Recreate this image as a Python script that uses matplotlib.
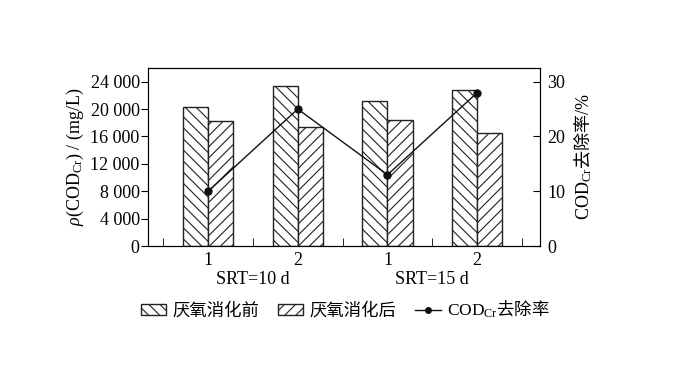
import numpy as np
import matplotlib
matplotlib.use('Agg')
import matplotlib.pyplot as plt
from matplotlib.patches import Patch
from matplotlib.lines import Line2D

plt.rcParams['font.family'] = ['Liberation Serif', 'Noto Sans CJK SC']
plt.rcParams['mathtext.fontset'] = 'custom'
plt.rcParams['mathtext.rm'] = 'Liberation Serif'
plt.rcParams['mathtext.it'] = 'Liberation Serif:italic'
plt.rcParams['hatch.linewidth'] = 0.8

# data
groups = ['SRT=10 d', 'SRT=15 d']
runs = ['1', '2', '1', '2']
before = [20300, 23350, 21150, 22850]   # 厌氧消化前
after = [18300, 17450, 18350, 16500]    # 厌氧消化后
removal = [10, 25, 13, 28]              # COD_Cr 去除率 %
yticks_left = [0, 4000, 8000, 12000, 16000, 20000, 24000]
yticklabels_left = ['0', '4 000', '8 000', '12 000', '16 000', '20 000', '24 000']
yticks_right = [0, 10, 20, 30]

cjk = ['Noto Sans CJK SC', 'Liberation Serif']
fs = 13

fig = plt.figure(figsize=(7, 3.82), dpi=100)
ax = fig.add_axes([0.2114, 0.356, 0.56, 0.466])
x = np.arange(len(runs))
w = 0.28
ax.bar(x - w / 2, before, w, color='white', edgecolor='#222222', hatch='\\\\\\', linewidth=1)
ax.bar(x + w / 2, after, w, color='white', edgecolor='#222222', hatch='///', linewidth=1)
ax.set_xlim(-0.67, 3.7)
ax.set_ylim(0, 26000)
ax.set_yticks(yticks_left)
ax.set_yticklabels(yticklabels_left)
ax.set_xticks(x)
ax.set_xticklabels(runs)
ax.set_xticks([-0.5, 0.5, 1.5, 2.5, 3.5], minor=True)
ax.tick_params(axis='x', which='major', length=0, labelsize=fs, pad=4)
ax.tick_params(axis='x', which='minor', direction='in', length=6)
ax.tick_params(axis='y', direction='out', length=5, labelsize=fs, pad=1)
ax.set_ylabel(r'$\it{\rho}$(COD$_{\rm Cr}$) / (mg/L)', fontsize=fs, labelpad=3)
for i, g in enumerate(groups):
    ax.text(2 * i + 0.5, -0.19, g, transform=ax.get_xaxis_transform(),
            ha='center', va='center', fontsize=fs)

ax2 = ax.twinx()
ax2.plot(x, removal, color='#111111', marker='o', markersize=5, linewidth=1)
ax2.set_ylim(0, 32.5)
ax2.set_yticks(yticks_right)
ax2.tick_params(axis='y', direction='in', length=5, labelsize=fs, pad=5)
ax2.set_ylabel(r'$\mathrm{COD_{Cr}}$去除率$\mathrm{/\%}$', fontsize=fs, labelpad=5,
               family=cjk)

handles = [Patch(facecolor='white', edgecolor='#222222', hatch='\\\\\\'),
           Patch(facecolor='white', edgecolor='#222222', hatch='///'),
           Line2D([], [], color='#111111', marker='o', markersize=4, linewidth=1)]
labels = ['厌氧消化前', '厌氧消化后', r'$\mathrm{COD_{Cr}}$去除率']
fig.legend(handles, labels, loc='center', bbox_to_anchor=(0.493, 0.19), ncol=3,
           frameon=False, prop={'family': cjk, 'size': 12.5}, handlelength=1.45,
           handleheight=0.55, columnspacing=1.1, handletextpad=0.35)

fig.savefig('out.png', dpi=100)
